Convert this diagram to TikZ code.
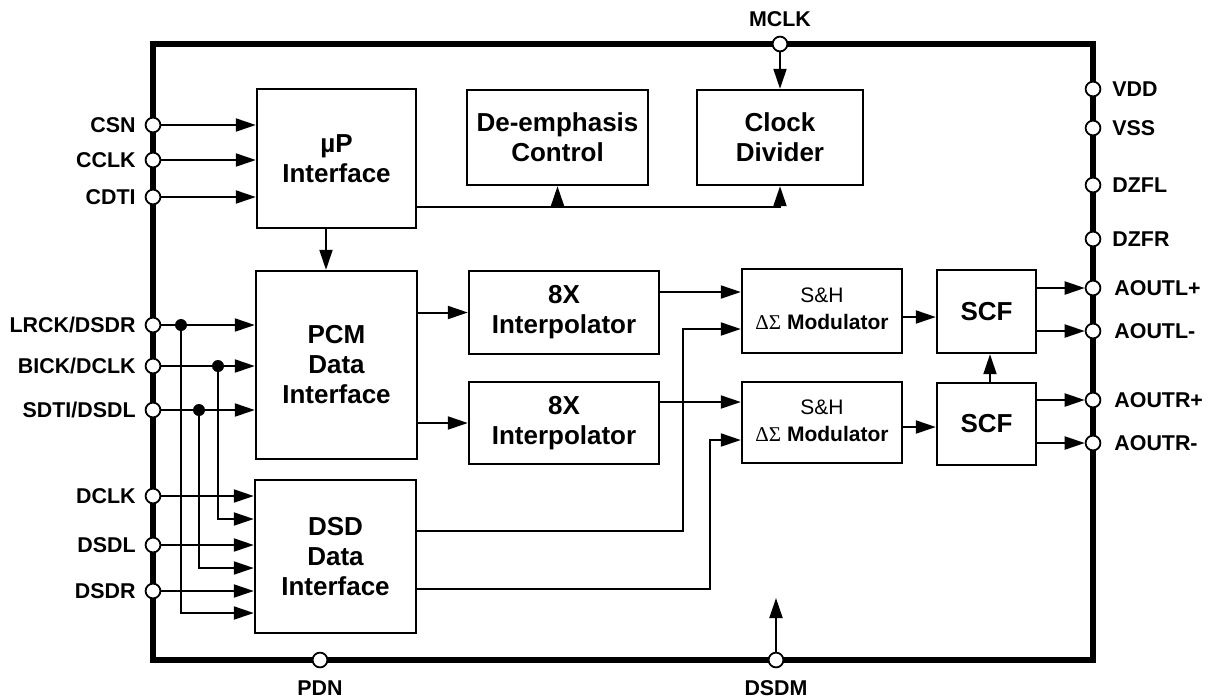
\documentclass[tikz,border=0pt]{standalone}
\usepackage{fontspec}
\setmainfont{Liberation Sans}
\newfontfamily\grk{Liberation Serif}
\usetikzlibrary{arrows.meta}
\begin{document}
\begin{tikzpicture}[x=0.5pt,y=-0.5pt,
 box/.style={draw,line width=1.2pt,align=center,inner sep=0pt,font=\fontsize{13}{15}\selectfont\bfseries},
 pin/.style={circle,draw,fill=white,line width=0.9pt,minimum size=7.4pt,inner sep=0pt},
 lbl/.style={font=\fontsize{10.7}{12}\selectfont\bfseries,inner sep=0pt},
 wire/.style={line width=1pt},
 arr/.style={wire,-{Triangle[length=10pt,width=6.5pt]}},
 jdot/.style={circle,fill,minimum size=6pt,inner sep=0pt},
]
\useasboundingbox (0,0) rectangle (1208,698);
\draw[line width=2.6pt] (153,44) rectangle (1093,660);

% blocks
\node[box,minimum width=79.5pt,minimum height=69.5pt] (up) at (336.5,158.5) {µP\\Interface};
\node[box,minimum width=90.5pt,minimum height=47.5pt] (deemph) at (557.5,137.5) {De-emphasis\\Control};
\node[box,minimum width=83pt,minimum height=47.5pt] (clkdiv) at (780,137.5) {Clock\\Divider};
\node[box,minimum width=80.5pt,minimum height=94pt] (pcm) at (336.5,365) {PCM\\Data\\Interface};
\node[box,minimum width=95pt,minimum height=41.5pt] (int1) at (564,312.5) {8X\\Interpolator};
\node[box,minimum width=95pt,minimum height=41pt] (int2) at (564,423) {8X\\Interpolator};
\node[box,minimum width=80pt,minimum height=42pt] (mod1) at (822,311) {\raisebox{4pt}{\fontsize{10.5}{13.5}\selectfont\begin{tabular}{@{}c@{}}\mdseries S\&H\\{\mdseries\grk ΔΣ} Modulator\end{tabular}}};
\node[box,minimum width=80pt,minimum height=40.5pt] (mod2) at (822,422.5) {\raisebox{4pt}{\fontsize{10.5}{13.5}\selectfont\begin{tabular}{@{}c@{}}\mdseries S\&H\\{\mdseries\grk ΔΣ} Modulator\end{tabular}}};
\node[box,minimum width=49.5pt,minimum height=41.5pt] (scf1) at (986.5,311.5) {SCF};
\node[box,minimum width=49.5pt,minimum height=41pt] (scf2) at (986.5,424) {SCF};
\node[box,minimum width=80.5pt,minimum height=76.5pt] (dsd) at (335.5,556.5) {DSD\\Data\\Interface};

% pins left
\node[pin] (csn) at (153,125) {};
\node[pin] (cclk) at (153,160) {};
\node[pin] (cdti) at (153,197) {};
\node[pin] (lrck) at (153,325) {};
\node[pin] (bick) at (153,366) {};
\node[pin] (sdti) at (153,410) {};
\node[pin] (dclk) at (153,496) {};
\node[pin] (dsdl) at (153,545) {};
\node[pin] (dsdr) at (153,591) {};
% pins right
\node[pin] (vdd) at (1093,89) {};
\node[pin] (vss) at (1093,128) {};
\node[pin] (dzfl) at (1093,185) {};
\node[pin] (dzfr) at (1093,239) {};
\node[pin] (aoutlp) at (1093,288) {};
\node[pin] (aoutlm) at (1093,331) {};
\node[pin] (aoutrp) at (1093,400) {};
\node[pin] (aoutrm) at (1093,443) {};
% pins top / bottom
\node[pin] (mclk) at (780,44) {};
\node[pin] (pdn) at (320,660) {};
\node[pin] (dsdm) at (776,660) {};

% labels
\node[lbl,anchor=east] (tcsn) at (136,125) {CSN};
\node[lbl,anchor=east] (tcclk) at (136,160) {CCLK};
\node[lbl,anchor=east] (tcdti) at (136,197) {CDTI};
\node[lbl,anchor=east] (tlrck) at (136,325) {LRCK/DSDR};
\node[lbl,anchor=east] (tbick) at (136,366) {BICK/DCLK};
\node[lbl,anchor=east] (tsdti) at (136,410) {SDTI/DSDL};
\node[lbl,anchor=east] (tdclk) at (136,496) {DCLK};
\node[lbl,anchor=east] (tdsdl) at (136,545) {DSDL};
\node[lbl,anchor=east] (tdsdr) at (136,591) {DSDR};
\node[lbl,anchor=west] (tvdd) at (1112,89) {VDD};
\node[lbl,anchor=west] (tvss) at (1112,128) {VSS};
\node[lbl,anchor=west] (tdzfl) at (1112,185) {DZFL};
\node[lbl,anchor=west] (tdzfr) at (1112,239) {DZFR};
\node[lbl,anchor=west] (taoutlp) at (1114,288) {AOUTL+};
\node[lbl,anchor=west] (taoutlm) at (1114,331) {AOUTL-};
\node[lbl,anchor=west] (taoutrp) at (1114,400) {AOUTR+};
\node[lbl,anchor=west] (taoutrm) at (1114,443) {AOUTR-};
\node[lbl] (tmclk) at (780,19) {MCLK};
\node[lbl] (tpdn) at (320,688) {PDN};
\node[lbl] (tdsdm) at (776,688) {DSDM};

% control inputs
\draw[arr] (csn) -- (csn -| up.west);
\draw[arr] (cclk) -- (cclk -| up.west);
\draw[arr] (cdti) -- (cdti -| up.west);
\draw[arr] (326,0 |- up.south) -- (326,0 |- pcm.north);
\draw[arr] (up.east |- 0,207) -| (clkdiv.south);
\draw[arr] (deemph.south |- 0,207) -- (deemph.south);
\draw[arr] (mclk) -- (clkdiv.north);

% PCM inputs and branches
\node[jdot] (d1) at (181,325) {};
\node[jdot] (d2) at (218,366) {};
\node[jdot] (d3) at (199,410) {};
\draw[arr] (lrck) -- (lrck -| pcm.west);
\draw[arr] (bick) -- (bick -| pcm.west);
\draw[arr] (sdti) -- (sdti -| pcm.west);
\draw[arr] (d1.center) |- (dsd.west |- 0,613);
\draw[arr] (d2.center) |- (dsd.west |- 0,519);
\draw[arr] (d3.center) |- (dsd.west |- 0,568);
\draw[arr] (dclk) -- (dclk -| dsd.west);
\draw[arr] (dsdl) -- (dsdl -| dsd.west);
\draw[arr] (dsdr) -- (dsdr -| dsd.west);

% data path
\draw[arr] (pcm.east |- int1) -- (int1.west);
\draw[arr] (pcm.east |- int2) -- (int2.west);
\draw[arr] (int1.east |- 0,292) -- (mod1.west |- 0,292);
\draw[arr] (int2.east |- 0,402) -- (mod2.west |- 0,402);
\draw[arr] (dsd.east |- 0,531) -| (683,329) -- (mod1.west |- 0,329);
\draw[arr] (dsd.east |- 0,589) -| (710,440) -- (mod2.west |- 0,440);
\draw[arr] (mod1.east |- 0,317) -- (scf1.west |- 0,317);
\draw[arr] (mod2.east |- 0,427) -- (scf2.west |- 0,427);
\draw[arr] (990,0 |- scf2.north) -- (990,0 |- scf1.south);
\draw[arr] (scf1.east |- aoutlp) -- (aoutlp);
\draw[arr] (scf1.east |- aoutlm) -- (aoutlm);
\draw[arr] (scf2.east |- aoutrp) -- (aoutrp);
\draw[arr] (scf2.east |- aoutrm) -- (aoutrm);
\coordinate (dsdmtip) at (776,598);
\draw[arr] (dsdm) -- (dsdmtip);
\end{tikzpicture}
\end{document}
